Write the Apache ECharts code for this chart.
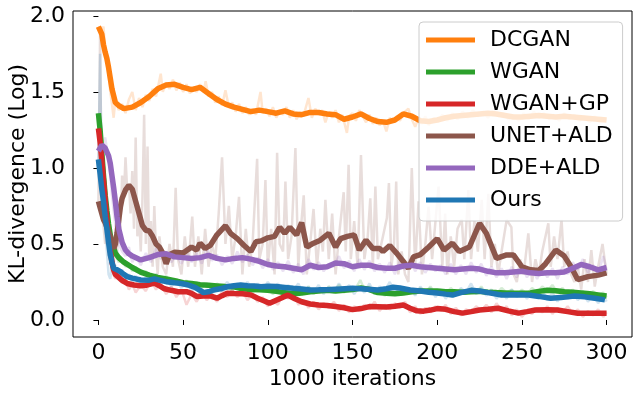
<!DOCTYPE html>
<html>
<head>
<meta charset="utf-8">
<script src="https://cdn.jsdelivr.net/npm/echarts@6/dist/echarts.min.js"></script>
<style>html,body{margin:0;padding:0;background:#fff}#c{width:642px;height:395px}</style>
</head>
<body>
<div id="c"></div>
<script>
const seriesNames = ['DCGAN','WGAN','WGAN+GP','UNET+ALD','DDE+ALD','Ours'];
const xTicks = [0,50,100,150,200,250,300];
const yTicks = [0,0.5,1,1.5,2];

const dcganSmooth = [[0,1.93],[1,1.92],[2,1.88],[3,1.81],[4,1.76],[5,1.72],[6,1.66],[7,1.59],[8,1.52],[10,1.43],[12,1.41],[15,1.39],[20,1.40],[25,1.43],[30,1.47],[35,1.52],[40,1.545],[45,1.55],[50,1.53],[55,1.515],[60,1.53],[65,1.49],[70,1.45],[75,1.42],[80,1.40],[85,1.385],[90,1.37],[95,1.38],[100,1.37],[105,1.36],[110,1.375],[115,1.355],[120,1.35],[125,1.365],[130,1.365],[135,1.355],[140,1.35],[145,1.32],[150,1.335],[155,1.355],[160,1.325],[165,1.305],[170,1.30],[175,1.315],[180,1.355],[185,1.34],[190,1.31],[195,1.305],[200,1.315],[205,1.33],[210,1.34],[215,1.345],[220,1.35],[225,1.355],[230,1.36],[235,1.355],[240,1.345],[245,1.335],[250,1.335],[255,1.34],[260,1.345],[265,1.34],[270,1.335],[275,1.34],[280,1.335],[285,1.33],[290,1.325],[295,1.32],[300,1.315]];
const dcganRaw = [[0,1.93],[2,1.9],[3,1.93],[4,1.78],[5,1.75],[6,1.62],[7,1.5],[8,1.42],[9,1.33],[10,1.45],[12,1.38],[14,1.42],[16,1.36],[18,1.45],[20,1.5],[22,1.38],[24,1.46],[26,1.4],[28,1.48],[30,1.44],[32,1.52],[34,1.47],[36.8,1.62],[38,1.5],[40,1.56],[42,1.52],[44,1.58],[46,1.51],[48,1.56],[50,1.5],[52,1.55],[54,1.49],[56,1.53],[58,1.5],[60,1.55],[62,1.5],[63.3,1.57],[65,1.47],[67,1.5],[69,1.43],[71,1.47],[73,1.41],[75,1.51],[77,1.4],[79,1.43],[81,1.37],[83,1.42],[85,1.36],[87,1.4],[89,1.35],[91,1.39],[93,1.35],[95.7,1.5],[97,1.36],[99,1.39],[101,1.34],[103,1.4],[105,1.33],[107,1.38],[109,1.35],[111,1.4],[113,1.33],[115,1.38],[117,1.32],[119,1.37],[121,1.34],[124,1.46],[126,1.33],[128,1.39],[130,1.35],[132,1.38],[134,1.3],[136,1.37],[138,1.33],[140,1.38],[142,1.3],[144,1.35],[146.7,1.23],[148,1.34],[150,1.36],[152,1.31],[154,1.38],[156,1.34],[158,1.3],[160,1.35],[162,1.29],[164,1.33],[166,1.28],[168,1.31],[170,1.24],[172,1.33],[174,1.3],[176,1.34],[178,1.31],[180,1.36],[183,1.39],[185,1.32],[187,1.27],[189,1.33],[191,1.29],[193,1.34],[195,1.28],[198,1.33],[200,1.3],[203,1.35],[206,1.31],[209,1.36],[212,1.32],[215,1.37],[218,1.33],[221,1.38],[224,1.34],[227,1.37],[230,1.33],[233,1.38],[236,1.34],[239,1.36],[242,1.32],[245,1.35],[248,1.31],[251,1.36],[254,1.32],[257,1.37],[260,1.33],[263,1.36],[266,1.32],[269,1.35],[272,1.31],[275,1.36],[278,1.32],[281,1.35],[284,1.31],[287,1.34],[290,1.3],[293,1.34],[296,1.3],[300,1.32]];

const wganSmooth = [[0,1.36],[1,1.25],[2,1.1],[3,0.95],[4,0.82],[5,0.72],[6,0.63],[7,0.56],[8,0.51],[10,0.44],[12,0.41],[15,0.38],[20,0.345],[25,0.315],[30,0.295],[35,0.28],[40,0.27],[45,0.258],[50,0.245],[55,0.24],[60,0.232],[65,0.228],[70,0.224],[75,0.22],[80,0.218],[85,0.205],[90,0.2],[95,0.198],[100,0.195],[105,0.188],[110,0.18],[115,0.172],[120,0.178],[125,0.185],[130,0.19],[135,0.195],[140,0.19],[145,0.195],[150,0.2],[155,0.21],[160,0.2],[165,0.18],[170,0.175],[175,0.172],[180,0.178],[185,0.185],[190,0.19],[195,0.19],[200,0.19],[205,0.186],[210,0.185],[215,0.183],[220,0.185],[225,0.188],[230,0.183],[235,0.18],[240,0.178],[245,0.176],[250,0.175],[255,0.178],[260,0.188],[265,0.195],[270,0.192],[275,0.185],[280,0.182],[285,0.178],[290,0.172],[295,0.165],[300,0.158]];
const wganRaw = [[0,1.36],[1,1.2],[2,1.05],[3,0.9],[4,0.78],[5,0.68],[6,0.58],[7,0.5],[8,0.45],[9,0.42],[10,0.44],[12,0.38],[14,0.4],[16,0.35],[18,0.37],[20,0.32],[22,0.35],[25,0.3],[28,0.32],[31,0.28],[34,0.3],[37,0.26],[40,0.29],[43,0.24],[46,0.27],[49,0.23],[52,0.26],[55,0.22],[58,0.25],[61,0.21],[64,0.24],[67,0.2],[70,0.24],[73,0.21],[76,0.23],[79,0.19],[82,0.23],[85,0.2],[88,0.22],[91,0.18],[94,0.22],[97,0.19],[100,0.21],[103,0.17],[106,0.2],[109,0.17],[112,0.2],[115,0.16],[118,0.21],[121,0.18],[124,0.22],[127,0.17],[130,0.21],[133,0.18],[136,0.22],[139,0.19],[142,0.23],[145,0.18],[148,0.21],[151,0.19],[154.6,0.263],[157,0.2],[160,0.22],[163,0.17],[166,0.2],[169,0.16],[172,0.2],[175,0.17],[178,0.21],[181,0.17],[184,0.2],[187,0.17],[190,0.21],[193,0.18],[196,0.22],[199,0.17],[202,0.2],[205,0.17],[208,0.21],[211,0.18],[214,0.2],[217,0.17],[220,0.21],[223,0.18],[226,0.22],[229,0.17],[232,0.2],[235,0.17],[238,0.21],[241,0.18],[244,0.2],[247,0.16],[250,0.2],[253,0.17],[256,0.21],[259,0.18],[262,0.22],[265,0.19],[268,0.23],[271,0.18],[274,0.21],[277,0.17],[280,0.2],[283,0.16],[286,0.19],[289,0.15],[292,0.19],[295,0.16],[298,0.18],[300,0.15]];

const wgangpSmooth = [[0,1.26],[1,1.17],[2,1.05],[3,0.92],[4,0.79],[5,0.66],[6,0.55],[7,0.46],[8,0.38],[9,0.33],[10,0.3],[12,0.28],[14,0.26],[17,0.24],[21,0.23],[25,0.225],[28,0.228],[33,0.242],[36,0.225],[39,0.205],[43,0.195],[47,0.186],[52,0.186],[55,0.175],[58,0.155],[62,0.158],[66,0.158],[70,0.143],[73,0.16],[76,0.175],[80,0.174],[85,0.173],[90,0.165],[94,0.143],[98,0.125],[101,0.11],[105,0.13],[109,0.15],[112,0.163],[116,0.14],[120,0.12],[125,0.105],[130,0.098],[135,0.095],[140,0.088],[145,0.08],[150,0.068],[155,0.075],[160,0.088],[165,0.087],[170,0.085],[175,0.09],[180,0.098],[184,0.077],[188,0.06],[192,0.058],[196,0.065],[200,0.075],[205,0.07],[210,0.055],[215,0.045],[220,0.055],[225,0.066],[230,0.07],[236,0.077],[242,0.06],[248,0.045],[253,0.055],[258,0.066],[265,0.068],[271,0.066],[277,0.055],[283,0.044],[290,0.045],[295,0.044],[300,0.044]];
const wgangpRaw = [[0,1.26],[1,1.15],[2,1.0],[3,0.88],[4,0.75],[5,0.6],[6,0.5],[7,0.4],[8,0.33],[9,0.3],[10,0.27],[12,0.31],[14,0.24],[16,0.27],[18,0.2],[20,0.24],[22,0.18],[25,0.23],[28,0.19],[31,0.26],[34,0.2],[37,0.24],[40,0.17],[43,0.22],[46,0.15],[49,0.2],[52,0.1],[55,0.17],[58,0.12],[61,0.18],[64,0.13],[67,0.17],[70,0.12],[73,0.19],[76,0.15],[79,0.2],[82,0.15],[85,0.19],[88,0.13],[91,0.17],[94,0.12],[97,0.15],[100,0.09],[103,0.13],[106,0.1],[109,0.17],[112,0.14],[115,0.19],[118,0.1],[121,0.13],[124,0.08],[127,0.12],[130,0.07],[133,0.11],[136,0.08],[139,0.12],[142,0.06],[145,0.1],[148,0.05],[151,0.09],[154,0.06],[157,0.1],[160,0.07],[163,0.12],[166,0.06],[169,0.1],[172,0.07],[175,0.11],[178,0.08],[181,0.12],[184,0.05],[187,0.09],[190,0.04],[193,0.08],[196,0.05],[199,0.09],[202,0.06],[205,0.1],[208,0.04],[211,0.08],[214,0.03],[217,0.07],[220,0.05],[223,0.09],[226,0.06],[229,0.1],[232,0.05],[235,0.11],[238,0.06],[241,0.09],[244,0.03],[247,0.07],[250,0.02],[253,0.06],[256,0.04],[259,0.08],[262,0.05],[265,0.09],[268,0.04],[271,0.08],[274,0.05],[277,0.09],[280,0.04],[283,0.07],[286,0.02],[289,0.06],[292,0.03],[295,0.07],[298,0.02],[300,0.05]];

const unetSmooth = [[0,0.78],[1,0.74],[2,0.70],[3,0.66],[4,0.64],[5,0.61],[6,0.58],[7,0.55],[8,0.5],[9,0.47],[10,0.5],[11,0.57],[12,0.66],[13,0.745],[14,0.80],[16,0.855],[18,0.885],[20,0.86],[22,0.78],[24,0.70],[26,0.62],[28,0.59],[30,0.585],[32,0.55],[34,0.50],[36,0.48],[38,0.44],[40,0.37],[42,0.43],[45,0.445],[50,0.44],[55,0.48],[58,0.46],[60,0.505],[63,0.47],[66,0.49],[70,0.56],[75,0.62],[78,0.57],[82,0.535],[86,0.49],[90,0.45],[93,0.515],[96,0.52],[100,0.54],[104,0.55],[107,0.61],[110,0.57],[113,0.61],[117,0.56],[120,0.64],[123,0.48],[127,0.505],[131,0.525],[136,0.57],[140,0.48],[143,0.535],[147,0.55],[151,0.56],[154,0.46],[158,0.525],[162,0.47],[166,0.47],[168,0.45],[172,0.49],[176,0.44],[180,0.385],[183,0.34],[186,0.415],[190,0.43],[195,0.48],[200,0.535],[204,0.46],[209,0.505],[213,0.45],[219,0.48],[225,0.635],[229,0.57],[235,0.405],[241,0.428],[245,0.428],[250,0.35],[255,0.33],[260,0.325],[264,0.37],[270,0.46],[275,0.42],[279,0.35],[283,0.265],[289,0.285],[295,0.295],[300,0.31]];
const unetRaw = [[0,0.78],[1,1.9],[2,0.7],[3,0.62],[4,0.5],[5,0.55],[6,0.42],[7,0.6],[8,0.45],[9,0.35],[10,0.55],[11,0.4],[12,0.75],[13,0.6],[14,0.95],[15,0.8],[16,1.07],[17,0.85],[18,0.9],[19,0.7],[20,0.98],[21,0.6],[22,1.2],[23,0.55],[24,0.7],[25,0.45],[26,0.8],[27,1.35],[28,0.5],[29,1.14],[30,0.4],[31,0.65],[32,0.35],[33,0.75],[34,0.45],[35,0.3],[36,0.55],[38,0.35],[40,0.3],[42,0.5],[44,0.35],[45.6,0.87],[47,0.4],[49,0.3],[51,0.55],[53,0.35],[55.4,0.68],[57,0.35],[59,0.55],[61,0.3],[63,0.6],[65,0.35],[67,0.5],[69,0.4],[71,0.7],[73,1.07],[75,0.5],[77,0.75],[79,0.4],[81,0.55],[83,0.81],[85,0.3],[87,0.6],[89,0.35],[91,0.5],[93.7,1.06],[95,0.4],[97,0.5],[98.6,0.92],[100,0.35],[102,0.6],[104,0.3],[105.5,1.1],[107,0.5],[109,0.45],[110.4,0.91],[112,0.4],[114,0.55],[116.3,1.13],[118,0.35],[119.5,0.6],[121.2,0.82],[123,0.3],[125,0.5],[127,0.73],[129,0.35],[131,0.6],[132.5,0.45],[134,0.79],[136,0.4],[138,0.7],[140,0.3],[142,0.55],[144.8,0.84],[146,0.45],[147.7,1.02],[149,0.4],[151,0.65],[153,0.35],[155,1.085],[157,0.4],[159,0.55],[160.5,0.8],[162,0.35],[163.5,0.877],[165,0.4],[167,0.5],[170.3,0.67],[171.5,0.9],[173,0.35],[174.5,0.5],[175.8,0.91],[177,0.3],[179,0.45],[181,0.3],[183,0.25],[185,1.0],[187,0.35],[189,0.78],[191,0.3],[193,0.5],[194.9,0.745],[197,0.4],[200.8,0.877],[203,0.35],[204.7,0.70],[206,0.3],[208,0.55],[210,0.35],[212,0.6],[214.5,0.66],[216,0.4],[218.4,0.855],[220,0.4],[222,0.65],[224,0.45],[226.3,0.79],[228,0.4],[230.2,0.83],[232,0.35],[234,0.5],[236,0.3],[238,0.45],[241,0.658],[243.8,0.61],[245,0.3],[247,0.25],[249,0.4],[251,0.3],[253.8,0.57],[256,0.25],[258,0.4],[260,0.3],[262,0.45],[265.6,0.636],[267,0.35],[269,0.55],[271,0.4],[273.4,0.658],[275,0.35],[277,0.45],[279,0.3],[281,0.25],[283,0.35],[285,0.2],[287,0.4],[289,0.25],[291,0.46],[293,0.22],[295,0.35],[297.6,0.5],[300,0.3]];

const ddeSmooth = [[0,1.11],[1,1.13],[2,1.15],[3,1.14],[4,1.13],[5,1.12],[6,1.08],[7,1.03],[8,0.95],[9,0.87],[10,0.78],[11,0.68],[12,0.6],[14,0.51],[16,0.46],[18,0.435],[20,0.42],[25,0.395],[30,0.41],[35,0.43],[40,0.435],[45,0.415],[50,0.41],[55,0.405],[60,0.41],[65,0.425],[70,0.405],[75,0.395],[80,0.405],[85,0.41],[90,0.40],[95,0.385],[100,0.365],[105,0.355],[110,0.35],[115,0.34],[120,0.33],[125,0.36],[130,0.345],[135,0.35],[140,0.375],[145,0.37],[150,0.35],[155,0.36],[160,0.36],[165,0.345],[170,0.34],[175,0.34],[180,0.355],[185,0.36],[190,0.35],[195,0.345],[200,0.34],[205,0.335],[210,0.33],[215,0.335],[220,0.34],[225,0.335],[230,0.32],[235,0.31],[240,0.31],[245,0.315],[250,0.32],[255,0.31],[260,0.305],[265,0.31],[270,0.31],[275,0.315],[280,0.34],[285,0.365],[290,0.35],[295,0.33],[300,0.345]];
const ddeRaw = [[0,1.11],[1,1.15],[2,1.18],[3,1.13],[4,1.2],[5,1.2],[6,1.05],[7,0.95],[8,0.82],[9,0.72],[10,0.62],[11,0.55],[12,0.5],[14,0.45],[16,0.42],[18,0.48],[20,0.38],[22,0.42],[25,0.36],[28,0.44],[31,0.38],[34,0.47],[37,0.4],[40,0.45],[43,0.38],[46,0.43],[49,0.37],[52,0.45],[55,0.38],[58,0.44],[61,0.37],[64,0.47],[67,0.39],[70,0.43],[73,0.36],[76,0.42],[79,0.37],[82,0.45],[85,0.38],[88,0.43],[91,0.36],[94,0.41],[97,0.34],[100,0.4],[103,0.33],[106,0.38],[109,0.32],[112,0.39],[115,0.31],[118,0.37],[121,0.3],[124,0.4],[127,0.33],[130,0.38],[133,0.32],[136,0.37],[139,0.35],[142,0.42],[145,0.34],[148,0.39],[151,0.32],[154,0.4],[157,0.33],[160,0.39],[163,0.32],[166,0.37],[169,0.31],[172,0.38],[175,0.3],[178,0.39],[181,0.33],[184,0.4],[187,0.32],[190,0.38],[193,0.31],[196,0.37],[199,0.32],[202,0.36],[205,0.3],[208,0.37],[211,0.3],[214,0.36],[217,0.3],[220,0.38],[223,0.31],[226,0.37],[229,0.29],[232,0.35],[235,0.28],[238,0.34],[241,0.27],[244,0.35],[247,0.28],[250,0.36],[253,0.28],[256,0.34],[259,0.27],[262,0.35],[265,0.28],[268,0.34],[271,0.27],[274,0.35],[277,0.3],[280,0.38],[283,0.33],[286,0.4],[289,0.31],[292,0.36],[295,0.3],[298,0.42],[300,0.33]];

const oursSmooth = [[0,1.056],[1,0.96],[2,0.86],[3,0.78],[4,0.68],[5,0.6],[6,0.51],[7,0.43],[8,0.38],[9,0.34],[11,0.33],[13,0.318],[15,0.3],[17,0.285],[20,0.275],[25,0.263],[30,0.262],[33,0.27],[36,0.262],[40,0.252],[45,0.245],[49,0.24],[53,0.23],[57,0.215],[60,0.195],[62,0.18],[65,0.185],[68,0.197],[72,0.205],[76,0.218],[80,0.225],[84,0.23],[88,0.225],[92,0.224],[96,0.219],[100,0.222],[105,0.22],[110,0.214],[115,0.208],[120,0.204],[125,0.197],[130,0.198],[137,0.2],[143,0.204],[150,0.208],[157,0.203],[165,0.197],[170,0.205],[174,0.215],[178,0.21],[184,0.197],[190,0.19],[195,0.182],[200,0.178],[205,0.17],[209,0.164],[214,0.18],[220,0.195],[225,0.19],[230,0.18],[238,0.164],[245,0.166],[254,0.164],[260,0.155],[267,0.143],[273,0.147],[281,0.158],[287,0.152],[293,0.143],[299,0.132]];
const oursRaw = [[0,1.05],[1,1.75],[2,0.9],[3,0.75],[4,0.6],[5,0.45],[6,0.3],[7,0.27],[8,0.35],[9,0.31],[10,0.36],[12,0.3],[14,0.33],[16,0.27],[18,0.3],[20,0.25],[22,0.29],[25,0.24],[28,0.28],[31,0.25],[34,0.3],[37,0.24],[40,0.27],[43,0.22],[46,0.26],[49,0.21],[52,0.25],[55,0.19],[58,0.22],[61,0.15],[64,0.2],[67,0.17],[70,0.22],[73,0.19],[76,0.25],[79,0.2],[82,0.24],[85,0.2],[88,0.25],[91,0.19],[94,0.24],[97,0.19],[100,0.25],[103,0.2],[106,0.24],[109,0.18],[112,0.23],[115,0.19],[118,0.24],[121,0.17],[124,0.22],[127,0.18],[130,0.23],[133,0.17],[136,0.22],[139,0.18],[142,0.24],[145,0.19],[148,0.23],[151,0.17],[154,0.22],[157,0.18],[160,0.24],[163,0.17],[166,0.22],[169,0.19],[172,0.25],[175,0.18],[178,0.22],[181,0.17],[184,0.21],[187,0.16],[190,0.22],[193,0.18],[196,0.21],[199,0.15],[202,0.2],[205,0.14],[208,0.19],[211,0.16],[214,0.21],[217,0.18],[220,0.24],[223,0.17],[226,0.21],[229,0.16],[232,0.2],[235,0.14],[238,0.19],[241,0.14],[244,0.2],[247,0.15],[250,0.19],[253,0.14],[256,0.19],[259,0.15],[262,0.2],[265,0.13],[268,0.18],[271,0.12],[274,0.18],[277,0.14],[280,0.19],[283,0.13],[286,0.18],[289,0.12],[292,0.17],[295,0.11],[298,0.16],[300,0.12]];

const colors = ['#ff7f0e','#2ca02c','#d62728','#8c564b','#9467bd','#1f77b4'];
const rawColors = ['rgba(255,127,14,0.2)','rgba(44,160,44,0.2)','rgba(214,39,40,0.2)','rgba(140,86,75,0.2)','rgba(148,103,189,0.2)','rgba(31,119,180,0.2)'];
const smoothData = [dcganSmooth, wganSmooth, wgangpSmooth, unetSmooth, ddeSmooth, oursSmooth];
const rawData = [dcganRaw, wganRaw, wgangpRaw, unetRaw, ddeRaw, oursRaw];

const FONT = 'DejaVu Sans';
const FS = 22;
const series = [];
for (let i = 0; i < seriesNames.length; i++) {
  series.push({
    name: seriesNames[i] + ' raw', type: 'line', data: rawData[i], showSymbol: false, symbol: 'none',
    lineStyle: { color: rawColors[i], width: 2.5 }, itemStyle: { color: colors[i] },
    z: 2, silent: true, animation: false
  });
  series.push({
    name: seriesNames[i], type: 'line', data: smoothData[i], showSymbol: false, symbol: 'none',
    lineStyle: { color: colors[i], width: 5.5 }, itemStyle: { color: colors[i] },
    z: 3, silent: true, animation: false
  });
}

const chart = echarts.init(document.getElementById('c'), null, { renderer: 'canvas' });
chart.setOption({
  animation: false,
  backgroundColor: '#ffffff',
  textStyle: { fontFamily: FONT },
  grid: { left: 73, right: 10, top: 11, bottom: 58, containLabel: false, outerBoundsMode: 'none',
          show: true, borderColor: '#000', borderWidth: 1, backgroundColor: 'transparent', z: 10 },
  xAxis: {
    type: 'value', min: -15, max: 315,
    name: '1000 iterations', nameLocation: 'middle', nameGap: 31, nameMoveOverlap: false,
    nameTextStyle: { fontSize: FS, color: '#000', fontFamily: FONT },
    axisLine: { show: false },
    axisTick: { show: true, inside: false, length: 5, lineStyle: { color: '#000', width: 1 }, customValues: xTicks },
    axisLabel: { fontSize: FS, color: '#000', fontFamily: FONT, margin: 5, customValues: xTicks },
    splitLine: { show: false }
  },
  yAxis: {
    type: 'value', min: -0.112, max: 2.032,
    name: 'KL-divergence (Log)', nameLocation: 'middle', nameGap: 44, nameRotate: 90, nameMoveOverlap: false,
    nameTextStyle: { fontSize: FS, color: '#000', fontFamily: FONT },
    axisLine: { show: false },
    axisTick: { show: true, inside: false, length: 5, lineStyle: { color: '#000', width: 1 }, customValues: yTicks },
    axisLabel: { fontSize: FS, color: '#000', fontFamily: FONT, margin: 8, customValues: yTicks, formatter: v => v.toFixed(1) },
    splitLine: { show: false }
  },
  legend: {
    data: seriesNames, orient: 'vertical', left: 419, top: 22,
    icon: 'rect', itemWidth: 49, itemHeight: 5, itemGap: 10,
    padding: [7, 10, 10, 7],
    backgroundColor: 'rgba(255,255,255,0.8)', borderColor: '#cccccc', borderWidth: 1, borderRadius: 4,
    textStyle: { fontSize: FS, color: '#000', fontFamily: FONT, lineHeight: 21, padding: [0, 0, 0, 10] },
    selectedMode: false, z: 20
  },
  series: series
});
</script>
</body>
</html>
